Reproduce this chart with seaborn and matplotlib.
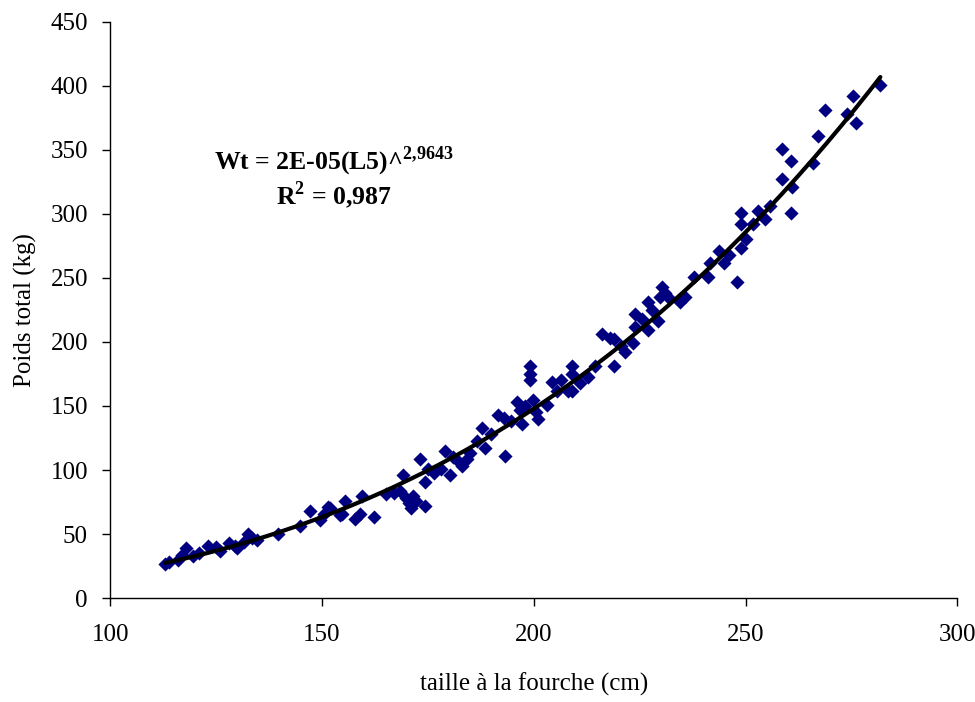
import numpy as np
import matplotlib
matplotlib.use("Agg")
import matplotlib.pyplot as plt
import seaborn as sns

# ─── DATA ───────────────────────────────────────────────────────────────────
length_cm = [
    113, 114, 116, 117, 118, 119.5, 121, 123, 125, 126,
    128, 129.5, 130, 131.5, 132.6, 133.5, 134.7, 139.7, 144.9, 147.2,
    149.6, 150.5, 151.5, 152, 154.3, 154.8, 155.5, 157.8, 159.5, 159,
    162.3, 165, 167, 168.5, 169.2, 169.8, 170.5, 171, 171.5, 172.2,
    173.2, 174.4, 174.4, 175, 176.5, 178, 179, 180.3, 181, 182.2,
    183, 184.3, 185, 186.7, 187.8, 188.5, 190, 191.6, 193, 193.3,
    194.5, 196, 196.8, 197.3, 198, 199.2, 199.2, 199.2, 199.8, 200.5,
    201, 203, 204.4, 205.5, 206.5, 208, 209, 209, 209, 211,
    212.9, 214.5, 216, 218, 219, 219, 220.5, 221.6, 223.3, 224,
    224, 225.5, 227, 227, 228, 229.4, 229.9, 230.3, 231, 232,
    234.6, 235.8, 237.7, 241, 241.7, 243.6, 244.8, 246, 248, 248.8,
    248.8, 248.8, 250, 251.8, 253, 254.5, 255.8, 258.7, 258.7, 260.6,
    261, 260.6, 265.8, 267, 268.8, 274, 275.4, 276, 281.8,
]
weight_kg = [
    27, 28, 30, 34, 39, 33, 35, 41, 40, 37,
    43, 41, 39, 44, 50, 47, 45, 50, 56, 68,
    61, 66, 71, 70, 65, 66, 76, 62, 80, 66,
    63, 81, 82, 84, 96, 78, 74, 70, 80, 76,
    109, 72, 91, 101, 98, 101, 115, 96, 110, 107,
    103, 109, 113, 123, 133, 117, 128, 143, 141, 111,
    138, 153, 147, 136, 150, 181, 175, 170, 155, 145,
    140, 151, 169, 162, 170, 162, 181, 175, 162, 168,
    173, 181, 206, 203, 202, 181, 197, 192, 199, 222,
    212, 218, 209, 231, 225, 216, 235, 243, 238, 234,
    231, 235, 251, 251, 262, 271, 262, 268, 247, 273,
    301, 292, 280, 292, 302, 296, 306, 351, 327, 341,
    321, 301, 340, 361, 381, 378, 392, 371, 401,
]

x_ticks = [100, 150, 200, 250, 300]
y_ticks = [0, 50, 100, 150, 200, 250, 300, 350, 400, 450]

X_LABEL = "taille à la fourche (cm)"
Y_LABEL = "Poids total (kg)"
EQ_TEXT = r"Wt = 2E-05(L5)^$^{\mathbf{2{,}9643}}$"
R2_TEXT = r"R$^{\mathbf{2}}$ = 0,987"

POINT_COLOR = "#000080"
FONT_SIZE = 18


def power_fit(x, y):
    # trend line of the form W = a * L^b, fitted on logs
    b, log_a = np.polyfit(np.log(x), np.log(y), 1)
    xs = np.linspace(min(x), max(x), 200)
    return xs, np.exp(log_a) * xs ** b


def main():
    sns.set_style("ticks")
    plt.rcParams["font.family"] = ["Liberation Serif", "DejaVu Serif"]
    plt.rcParams["mathtext.fontset"] = "custom"
    plt.rcParams["mathtext.rm"] = "Liberation Serif"
    plt.rcParams["mathtext.bf"] = "Liberation Serif:bold"
    plt.rcParams["text.color"] = "black"
    plt.rcParams["axes.labelcolor"] = "black"

    fig, ax = plt.subplots(figsize=(9.75, 7.02), dpi=100)
    fig.subplots_adjust(left=0.113, right=0.982, top=0.969, bottom=0.148)

    sns.scatterplot(x=length_cm, y=weight_kg, marker="D", s=52,
                    color=POINT_COLOR, edgecolor=POINT_COLOR, linewidth=0,
                    zorder=2, ax=ax)

    xs, ys = power_fit(length_cm, weight_kg)
    sns.lineplot(x=xs, y=ys, color="black", lw=3, sort=False,
                 estimator=None, zorder=3, ax=ax)

    ax.set_xlim(100, 300)
    ax.set_ylim(0, 450)
    ax.set_xticks(x_ticks)
    ax.set_yticks(y_ticks)
    ax.tick_params(axis="both", direction="out", length=6, width=1,
                   color="black", labelsize=FONT_SIZE, labelcolor="black")
    ax.tick_params(axis="x", pad=13)
    ax.tick_params(axis="y", pad=10)

    ax.set_xlabel(X_LABEL, fontsize=FONT_SIZE, labelpad=19)
    ax.set_ylabel(Y_LABEL, fontsize=FONT_SIZE, labelpad=10)

    sns.despine(ax=ax)
    for side in ("left", "bottom"):
        ax.spines[side].set_color("black")
        ax.spines[side].set_linewidth(1)

    ax.text(0.264, 0.729, EQ_TEXT + "\n" + R2_TEXT, transform=ax.transAxes,
            ha="center", va="center", multialignment="center",
            linespacing=1.05, fontsize=18.5, fontweight="bold")

    fig.savefig("out.png", dpi=100)
    plt.close(fig)


if __name__ == "__main__":
    main()
